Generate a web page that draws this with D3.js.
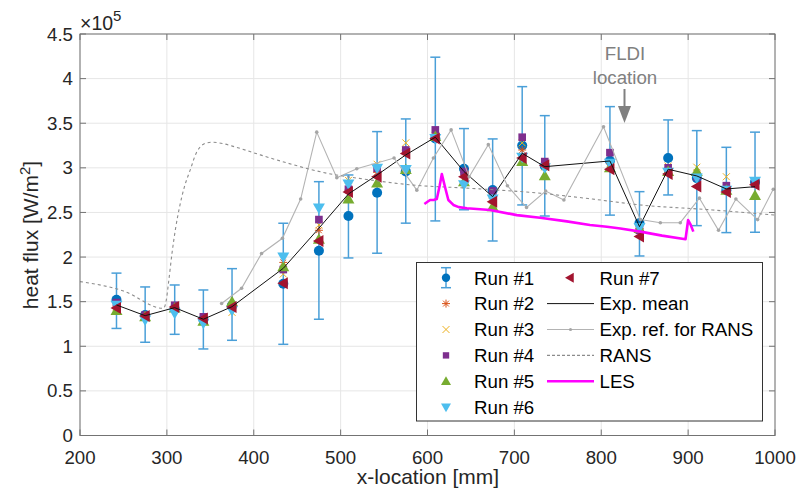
<!doctype html>
<html>
  <head>
    <meta charset="utf-8">
    <title>Heat flux</title>
    <script src="https://cdnjs.cloudflare.com/ajax/libs/d3/7.8.5/d3.min.js"></script>
    <style>
      body { margin: 0; background: #fff; }
      text { font-family: "Liberation Sans", Arial, sans-serif; fill: #262626; }
    </style>
  </head>
  <body>
    <svg id="chart" width="800" height="496"></svg>
    <script>
      // heat flux values are in units of 1e5 W/m^2
      var xLoc = [242, 275, 309, 342, 375, 434, 475, 509, 542, 575, 609, 642, 675, 709, 735, 810, 844, 877, 910, 944, 977];

      var run1 = [1.52, 1.35, 1.42, 1.30, 1.46, 1.70, 2.07, 2.46, 2.72, 2.96, 3.33, 2.99, 2.75, 3.25, 3.02, 3.08, 2.38, 3.11, 2.885, 2.75, 2.84];
      var run1Lo = [1.20, 1.045, 1.134, 0.97, 1.067, 1.022, 1.303, 1.99, 2.043, 2.38, 2.405, 2.53, 2.18, 2.584, 2.46, 2.47, 2.012, 2.696, 2.352, 2.274, 2.278];
      var run1Hi = [1.82, 1.665, 1.687, 1.631, 1.87, 2.379, 2.845, 2.92, 3.406, 3.548, 4.24, 3.44, 3.324, 3.91, 3.585, 3.686, 2.733, 3.537, 3.417, 3.23, 3.40];
      var run2 = [1.45, 1.35, 1.44, 1.31, 1.45, 1.94, 2.30, 2.75, 2.95, 3.20, 3.36, 2.95, 2.66, 3.20, 3.03, 3.05, 2.32, 3.00, 2.95, 2.78, 2.82];
      var run3 = [1.44, 1.33, 1.43, 1.30, 1.38, 1.81, 2.36, 2.86, 3.04, 3.28, 3.36, 2.93, 2.64, 3.28, 3.01, 3.03, 2.30, 3.02, 3.007, 2.90, 2.83];
      var run4 = [1.49, 1.35, 1.46, 1.33, 1.45, 1.86, 2.42, 2.76, 2.995, 3.20, 3.425, 2.96, 2.74, 3.343, 3.07, 3.17, 2.30, 3.00, 2.90, 2.80, 2.82];
      var run5 = [1.40, 1.33, 1.43, 1.28, 1.50, 1.89, 2.20, 2.65, 2.83, 2.98, 3.35, 2.845, 2.565, 3.07, 2.91, 3.00, 2.32, 2.96, 2.96, 2.75, 2.69];
      var run6 = [1.46, 1.295, 1.37, 1.258, 1.40, 2.00, 2.55, 2.82, 2.995, 2.98, 3.33, 2.81, 2.65, 3.12, 3.00, 3.05, 2.33, 2.95, 2.885, 2.75, 2.85];
      var run7 = [1.43, 1.34, 1.44, 1.31, 1.44, 1.706, 2.18, 2.73, 2.90, 3.16, 3.33, 2.90, 2.62, 3.11, 3.03, 2.985, 2.23, 2.93, 2.79, 2.73, 2.81];
      var expMean = [1.463, 1.343, 1.433, 1.303, 1.444, 1.874, 2.323, 2.707, 2.92, 3.145, 3.343, 2.958, 2.677, 3.163, 3.013, 3.077, 2.341, 2.984, 2.909, 2.763, 2.789];

      var refX = [363, 386, 409, 433, 454, 472.5, 495.6, 518.6, 561.5, 587.7, 606.8, 627.2, 648, 670, 692, 714, 736, 757, 802.6, 845, 868, 891, 913, 935, 955, 980, 998];
      var refY = [1.48, 1.65, 2.04, 2.21, 2.65, 3.40, 2.89, 2.99, 3.11, 2.75, 3.11, 3.425, 2.90, 3.26, 2.80, 2.555, 2.74, 2.64, 3.46, 2.42, 2.385, 2.385, 2.66, 2.30, 2.65, 2.42, 2.76];

      var ransX = [200, 250, 296, 299, 302, 306, 310, 315, 320, 327, 334, 340, 346, 352, 360, 380, 404, 440, 484, 530, 580, 650, 730, 790, 845, 925, 1000];
      var ransY = [1.725, 1.62, 1.425, 1.50, 1.72, 2.05, 2.32, 2.58, 2.78, 2.98, 3.17, 3.25, 3.28, 3.287, 3.28, 3.23, 3.156, 3.05, 2.94, 2.87, 2.81, 2.77, 2.715, 2.65, 2.584, 2.53, 2.47];

      var lesX = [596.4, 600, 603, 607, 610.7, 614, 616.5, 620.3, 624, 629.8, 636, 645.3, 672, 702.8, 729.6, 760.4, 787, 806.5, 822, 845, 870, 897, 900, 903, 906];
      var lesY = [2.595, 2.62, 2.64, 2.64, 2.65, 2.80, 2.93, 2.78, 2.64, 2.584, 2.56, 2.547, 2.528, 2.47, 2.44, 2.40, 2.36, 2.34, 2.32, 2.285, 2.24, 2.20, 2.415, 2.36, 2.285];

      var xTicks = [200, 300, 400, 500, 600, 700, 800, 900, 1000];
      var yTicks = [0, 0.5, 1, 1.5, 2, 2.5, 3, 3.5, 4, 4.5];

      var runNames = ["Run #1", "Run #2", "Run #3", "Run #4", "Run #5", "Run #6", "Run #7"];
      var runColors = ["#0072BD", "#D95319", "#EDB120", "#7E2F8E", "#77AC30", "#4DBEEE", "#A2142F"];
      var runShapes = ["o", "*", "x", "s", "^", "v", "<"];
      var runs = [run1, run2, run3, run4, run5, run6, run7];

      var svg = d3.select("#chart");
      var plotL = 80, plotR = 775, plotT = 34, plotB = 435.5;

      var x = d3.scaleLinear().domain([200, 1000]).range([plotL, plotR]);
      var y = d3.scaleLinear().domain([0, 4.5]).range([plotB, plotT]);

      svg.append("rect").attr("width", 800).attr("height", 496).attr("fill", "#fff");

      // grid
      svg.append("g").selectAll("line").data(xTicks).enter().append("line")
        .attr("x1", d => x(d)).attr("x2", d => x(d)).attr("y1", plotT).attr("y2", plotB)
        .attr("stroke", "#e6e6e6").attr("stroke-width", 1);
      svg.append("g").selectAll("line").data(yTicks).enter().append("line")
        .attr("x1", plotL).attr("x2", plotR).attr("y1", d => y(d)).attr("y2", d => y(d))
        .attr("stroke", "#e6e6e6").attr("stroke-width", 1);

      function shape(type, s) {
        var h = s * 0.75;
        switch (type) {
          case "o": return d3.symbol(d3.symbolCircle, Math.PI * s * s * 0.7)();
          case "s": return "M" + (-h * 0.85) + "," + (-h * 0.85) + "H" + (h * 0.85) + "V" + (h * 0.85) + "H" + (-h * 0.85) + "Z";
          case "^": return "M0," + (-s) + "L" + s + "," + h + "L" + (-s) + "," + h + "Z";
          case "v": return "M0," + s + "L" + s + "," + (-h) + "L" + (-s) + "," + (-h) + "Z";
          case "<": return "M" + (-s) + ",0L" + h + "," + (-s) + "L" + h + "," + s + "Z";
          case "x": return "M-3.5,-3.5L3.5,3.5M-3.5,3.5L3.5,-3.5";
          case "*": return "M-4,0H4M0,-4V4M-2.9,-2.9L2.9,2.9M-2.9,2.9L2.9,-2.9";
        }
      }

      function drawMark(g, type, color, px, py, s) {
        var p = g.append("path").attr("d", shape(type, s))
          .attr("transform", "translate(" + px + "," + py + ")");
        if (type === "x" || type === "*") {
          p.attr("fill", "none").attr("stroke", color).attr("stroke-width", 1);
        } else {
          p.attr("fill", color).attr("stroke", "none");
        }
      }

      var errColor = "#4a9fd8";

      // error bars of run #1
      var eb = svg.append("g").attr("stroke", errColor).attr("stroke-width", 1.5).attr("fill", "none");
      xLoc.forEach(function (xv, i) {
        var cx = x(xv);
        eb.append("line").attr("x1", cx).attr("x2", cx).attr("y1", y(run1Lo[i])).attr("y2", y(run1Hi[i]));
        eb.append("line").attr("x1", cx - 5).attr("x2", cx + 5).attr("y1", y(run1Lo[i])).attr("y2", y(run1Lo[i]));
        eb.append("line").attr("x1", cx - 5).attr("x2", cx + 5).attr("y1", y(run1Hi[i])).attr("y2", y(run1Hi[i]));
      });

      // run markers
      var mk = svg.append("g");
      runs.forEach(function (vals, r) {
        vals.forEach(function (v, i) {
          drawMark(mk, runShapes[r], runColors[r], x(xLoc[i]), y(v), 6);
        });
      });

      var line = d3.line().x(d => x(d[0])).y(d => y(d[1]));

      // experimental mean
      svg.append("path").datum(d3.zip(xLoc, expMean)).attr("d", line)
        .attr("fill", "none").attr("stroke", "#111").attr("stroke-width", 1);

      // exp. ref. for RANS
      var refData = d3.zip(refX, refY);
      svg.append("path").datum(refData).attr("d", line)
        .attr("fill", "none").attr("stroke", "#b3b3b3").attr("stroke-width", 1.1);
      svg.append("g").selectAll("circle").data(refData).enter().append("circle")
        .attr("cx", d => x(d[0])).attr("cy", d => y(d[1])).attr("r", 1.8).attr("fill", "#a6a6a6");

      // RANS
      svg.append("path").datum(d3.zip(ransX, ransY)).attr("d", line.curve(d3.curveMonotoneX))
        .attr("fill", "none").attr("stroke", "#8c8c8c").attr("stroke-width", 1.1).attr("stroke-dasharray", "3,3");
      line.curve(d3.curveLinear);

      // LES
      svg.append("path").datum(d3.zip(lesX, lesY)).attr("d", line)
        .attr("fill", "none").attr("stroke", "#ff00ff").attr("stroke-width", 2.6).attr("stroke-linejoin", "round");

      // axes box and ticks
      var axG = svg.append("g").attr("stroke", "#737373").attr("stroke-width", 1).attr("fill", "none");
      axG.append("rect").attr("x", plotL).attr("y", plotT).attr("width", plotR - plotL).attr("height", plotB - plotT);
      xTicks.forEach(function (t) {
        axG.append("line").attr("x1", x(t)).attr("x2", x(t)).attr("y1", plotB).attr("y2", plotB - 6);
        axG.append("line").attr("x1", x(t)).attr("x2", x(t)).attr("y1", plotT).attr("y2", plotT + 6);
      });
      yTicks.forEach(function (t) {
        axG.append("line").attr("x1", plotL).attr("x2", plotL + 6).attr("y1", y(t)).attr("y2", y(t));
        axG.append("line").attr("x1", plotR).attr("x2", plotR - 6).attr("y1", y(t)).attr("y2", y(t));
      });

      svg.append("g").selectAll("text").data(xTicks).enter().append("text")
        .attr("x", d => x(d)).attr("y", 463.5).attr("text-anchor", "middle")
        .attr("font-size", "18.7px").text(d => d);
      svg.append("g").selectAll("text").data(yTicks).enter().append("text")
        .attr("x", 73).attr("y", d => y(d) + 6.5).attr("text-anchor", "end")
        .attr("font-size", "18.7px").text(d => d);

      // exponent label
      var ex = svg.append("text").attr("x", 80).attr("y", 30).attr("font-size", "19.5px");
      ex.append("tspan").text("\u00d710");
      ex.append("tspan").attr("dy", -9).attr("font-size", "15px").text("5");

      // axis labels
      svg.append("text").attr("x", 428).attr("y", 484).attr("text-anchor", "middle")
        .attr("font-size", "21px").text("x-location [mm]");
      var yl = svg.append("text").attr("transform", "translate(38,235) rotate(-90)")
        .attr("text-anchor", "middle").attr("font-size", "21px");
      yl.append("tspan").text("heat flux [W/m");
      yl.append("tspan").attr("dy", -8).attr("font-size", "15px").text("2");
      yl.append("tspan").attr("dy", 8).text("]");

      // FLDI annotation
      svg.append("text").attr("x", 625).attr("y", 60).attr("text-anchor", "middle")
        .attr("font-size", "18.7px").style("fill", "#808080").text("FLDI");
      svg.append("text").attr("x", 625).attr("y", 84).attr("text-anchor", "middle")
        .attr("font-size", "18.7px").style("fill", "#808080").text("location");
      svg.append("line").attr("x1", 624.5).attr("x2", 624.5).attr("y1", 89).attr("y2", 110)
        .attr("stroke", "#808080").attr("stroke-width", 2);
      svg.append("path").attr("d", "M618,106L631,106L624.5,123Z").attr("fill", "#808080");

      // legend
      var lg = svg.append("g");
      lg.append("rect").attr("x", 416.5).attr("y", 262.5).attr("width", 346).attr("height", 158.5)
        .attr("fill", "#fff").attr("stroke", "#333").attr("stroke-width", 1);
      var rowY = d3.range(6).map(i => 277.7 + i * 25.9);
      runNames.forEach(function (name, r) {
        var cx, tx, ry;
        if (r < 6) { cx = 446; tx = 474; ry = rowY[r]; }
        else { cx = 570; tx = 599.5; ry = rowY[0]; }
        if (r === 0) {
          lg.append("line").attr("x1", cx).attr("x2", cx).attr("y1", ry - 10).attr("y2", ry + 10)
            .attr("stroke", errColor).attr("stroke-width", 1.5);
          lg.append("line").attr("x1", cx - 5).attr("x2", cx + 5).attr("y1", ry - 10).attr("y2", ry - 10)
            .attr("stroke", errColor).attr("stroke-width", 1.5);
          lg.append("line").attr("x1", cx - 5).attr("x2", cx + 5).attr("y1", ry + 10).attr("y2", ry + 10)
            .attr("stroke", errColor).attr("stroke-width", 1.5);
        }
        drawMark(lg, runShapes[r], runColors[r], cx, ry, 5);
        lg.append("text").attr("x", tx).attr("y", ry + 6.8).attr("font-size", "18.7px").style("fill", "#000").text(name);
      });

      var lineItems = [
        { name: "Exp. mean", color: "#111", width: 1, dash: null, dot: false },
        { name: "Exp. ref. for RANS", color: "#b3b3b3", width: 1.1, dash: null, dot: true },
        { name: "RANS", color: "#8c8c8c", width: 1.1, dash: "3,2", dot: false },
        { name: "LES", color: "#ff00ff", width: 2.6, dash: null, dot: false }
      ];
      lineItems.forEach(function (it, i) {
        var ry = rowY[i + 1];
        lg.append("line").attr("x1", 547).attr("x2", 594).attr("y1", ry).attr("y2", ry)
          .attr("stroke", it.color).attr("stroke-width", it.width).attr("stroke-dasharray", it.dash);
        if (it.dot) lg.append("circle").attr("cx", 570.5).attr("cy", ry).attr("r", 1.6).attr("fill", "#a6a6a6");
        lg.append("text").attr("x", 599.5).attr("y", ry + 6.8).attr("font-size", "18.7px").style("fill", "#000").text(it.name);
      });
    </script>
  </body>
</html>
